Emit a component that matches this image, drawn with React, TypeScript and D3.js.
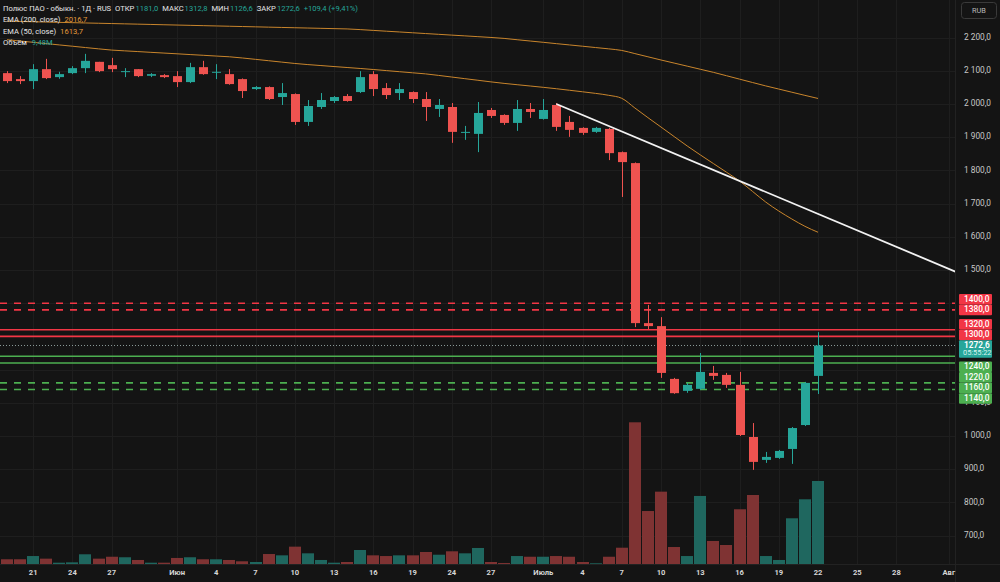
import React from 'react';
import * as d3 from 'd3';

// ---- data ----
const OPEN = [2093,2075,2069,2105,2081,2093,2108,2127,2117,2098,2105,2085,2087,2084,2066,2111,2096,2090,2075,2045,2051,2021,2030,1946,1991,2009,2024,2036,2090,2048,2033,2036,2015,1985,1991,1914,1910,1982,1967,1943,1985,1955,1997,1946,1928,1916,1925,1855,1822,1340,1331,1172,1136,1142,1190,1184,1154,997,928,934,961,1033,1181.0];
const HIGH = [2099,2084,2120,2136,2097,2114,2151,2127,2139,2108,2105,2093,2090,2099,2124,2130,2120,2105,2077,2054,2053,2063,2032,2012,2033,2024,2030,2099,2099,2063,2063,2038,2036,2015,2003,1934,2006,1988,1969,2012,2003,2015,2003,1964,1930,1931,1928,1857,1824,1395,1358,1175,1160,1250,1211,1190,1193,1039,952,958,1027,1163,1312.8];
const LOW = [2063,2060,2045,2075,2076,2090,2093,2096,2096,2081,2081,2081,2078,2051,2063,2088,2075,2058,2018,2042,2012,1997,1937,1934,1985,2003,2007,2033,2024,2015,2012,2003,1949,1961,1883,1892,1855,1958,1937,1919,1958,1953,1919,1901,1907,1913,1831,1720,1328,1322,1175,1127,1130,1139,1169,1145,1000,898,919,931,916,1030,1126.6];
const CLOSE = [2069,2069,2105,2078,2090,2108,2130,2099,2105,2099,2084,2090,2081,2066,2111,2090,2097,2060,2039,2051,2015,2033,1946,1994,2012,2021,2009,2081,2045,2027,2045,2015,1991,1997,1916,1916,1973,1964,1943,1985,1976,1982,1931,1922,1913,1928,1852,1825,1340,1331,1190,1129,1154,1193,1181,1154,1003,922,937,955,1024,1160,1272.6];
const VOLUME = [0.54,0.54,0.91,0.61,0.15,0.19,1.11,0.61,0.83,0.77,0.46,0.15,0.15,0.69,0.77,0.54,0.54,0.46,0.31,0.23,1.14,0.99,1.98,1.22,0.46,0.15,0.23,1.60,0.99,0.91,0.99,0.99,1.37,1.06,1.45,1.22,1.83,0.23,0.11,0.91,0.83,0.83,0.91,0.83,0.23,0.08,0.83,1.86,16.18,6.05,8.26,1.94,0.91,7.77,2.63,2.17,6.25,7.88,0.91,0.46,5.22,7.39,9.48];
const EMA200 = [2249.5,2248.6,2247.7,2246.8,2245.9,2245.0,2244.1,2243.2,2242.3,2241.4,2240.5,2239.6,2238.7,2237.8,2236.9,2236.0,2235.1,2234.2,2233.3,2232.4,2231.5,2230.6,2229.7,2228.8,2227.9,2227.0,2226.1,2224.1,2221.7,2219.3,2217.0,2214.6,2212.2,2209.9,2207.5,2205.2,2202.8,2200.4,2197.6,2193.6,2189.7,2185.8,2181.8,2177.9,2174.0,2170.0,2166.1,2161.3,2151.8,2142.2,2132.5,2123.3,2114.0,2104.7,2095.4,2085.2,2074.9,2064.7,2054.5,2045.0,2035.5,2026.0,2016.7];
const EMA50 = [2193.7,2189.7,2185.8,2181.9,2177.9,2174.0,2170.0,2166.1,2162.4,2160.1,2157.9,2155.6,2153.4,2151.2,2148.9,2146.7,2144.4,2142.2,2138.6,2134.5,2130.4,2126.2,2122.1,2118.7,2115.8,2112.8,2109.9,2107.0,2103.9,2100.6,2097.3,2094.0,2090.7,2086.1,2081.2,2076.3,2071.5,2066.6,2062.1,2058.1,2054.2,2050.2,2046.0,2041.4,2036.8,2032.0,2026.2,2017.1,1988.0,1958.9,1930.5,1902.0,1873.6,1846.8,1820.7,1794.7,1768.1,1736.5,1704.8,1677.7,1653.6,1631.6,1613.7];

const X_TICK_INDEX = [2,5,8,13,16,19,22,25,28,31,34,37,41,44,47,50,53,56,59,62,65,68,72];
const X_TICK_LABELS = ['21','24','27','Июн','4','7','10','13','16','19','24','27','Июль','4','7','10','13','16','19','22','25','28','Авг'];
const PRICE_TICKS = [700,800,900,1000,1100,1200,1300,1400,1500,1600,1700,1800,1900,2000,2100,2200];

const RED_DASHED = [1400, 1380];
const RED_SOLID = [1320, 1300];
const GREEN_SOLID = [1240, 1220];
const GREEN_DASHED = [1160, 1140];

const TREND_INDEX = [42, 62];
const TREND_PRICE = [2000, 1669];

const TITLE = 'Полюс ПАО - обыкн. · 1Д · RUS';
const LAST_CHANGE = 109.4;
const LAST_PCT = 9.41;
const TIMER = '05:55:22';
const VOLUME_LABEL = '9,48M';

// ---- styles ----
const W = 1000, H = 582;
const PLOT_R = 955, PLOT_B = 564;
const BG = '#141414';
const GRID = '#1e1e1e';
const UP = '#26a69a';
const DOWN = '#ef5350';
const UP_VOL = '#1f675f';
const DOWN_VOL = '#7f3333';
const RED_LVL = '#f23645';
const GREEN_LVL = '#4caf50';
const EMA_COLOR = '#c9852c';
const FONT = "Roboto, 'Noto Sans', Arial, sans-serif";

function fmt(v: number, sep = ' ') {
  const s = v.toFixed(1);
  const [ip, dp] = s.split('.');
  const neg = ip.startsWith('-');
  const digits = neg ? ip.slice(1) : ip;
  const grouped = digits.replace(/\B(?=(\d{3})+(?!\d))/g, sep);
  return (neg ? '-' : '') + grouped + ',' + dp;
}

export default function App() {
  const n = CLOSE.length;
  const x = d3.scaleLinear().domain([0, n - 1]).range([7, 818]);
  const y = d3.scaleLinear().domain([1000, 2000]).range([436, 104]);
  const vMax = d3.max(VOLUME) as number;
  const vy = d3.scaleLinear().domain([0, vMax]).range([PLOT_B, PLOT_B - 141.7]);

  const line = d3.line<number>().x((_, i) => x(i)).y((d) => y(d)).curve(d3.curveMonotoneX);

  const last = n - 1;
  const curY = y(CLOSE[last]);

  // trend line extended to the price axis
  const slope = (TREND_PRICE[1] - TREND_PRICE[0]) / (TREND_INDEX[1] - TREND_INDEX[0]);
  const iEnd = x.invert(PLOT_R + 5);
  const pEnd = TREND_PRICE[0] + slope * (iEnd - TREND_INDEX[0]);

  // price labels layout (stacked, pushed away from the last-price label)
  const LH = 10.6;
  type Lvl = { p: number; color: string; dash: boolean };
  const levels: Lvl[] = [
    ...RED_DASHED.map((p) => ({ p, color: RED_LVL, dash: true })),
    ...RED_SOLID.map((p) => ({ p, color: RED_LVL, dash: false })),
    ...GREEN_SOLID.map((p) => ({ p, color: GREEN_LVL, dash: false })),
    ...GREEN_DASHED.map((p) => ({ p, color: GREEN_LVL, dash: true })),
  ];
  const placed: { p: number; color: string; c: number }[] = [];
  const above = levels.filter((l) => l.p > CLOSE[last]).sort((a, b) => a.p - b.p);
  let lim = curY - LH / 2;
  for (const l of above) {
    const c = Math.min(y(l.p), lim - LH / 2);
    placed.push({ p: l.p, color: l.color, c });
    lim = c - LH / 2;
  }
  const below = levels.filter((l) => l.p < CLOSE[last]).sort((a, b) => b.p - a.p);
  lim = curY - LH / 2 + 2 * LH;
  for (const l of below) {
    const c = Math.max(y(l.p), lim + LH / 2);
    placed.push({ p: l.p, color: l.color, c });
    lim = c + LH / 2;
  }
  const centers = [...placed.map((p) => p.c), curY, curY + LH];
  const visibleTicks = PRICE_TICKS.filter((p) => centers.every((c) => Math.abs(c - y(p)) >= LH * 0.4));

  const legendY = [8.5, 20, 31.5, 43];

  return (
    <svg width={W} height={H} style={{ position: 'absolute', left: 0, top: 0, background: BG }} fontFamily={FONT}>
      <defs>
        <clipPath id="plot">
          <rect x={0} y={0} width={PLOT_R} height={PLOT_B} />
        </clipPath>
      </defs>
      <rect x={0} y={0} width={W} height={H} fill={BG} />

      {/* grid */}
      <g clipPath="url(#plot)">
        {PRICE_TICKS.map((p) => (
          <line key={'h' + p} x1={0} x2={PLOT_R} y1={Math.round(y(p)) + 0.5} y2={Math.round(y(p)) + 0.5} stroke={GRID} />
        ))}
        {X_TICK_INDEX.map((i) => (
          <line key={'v' + i} x1={Math.round(x(i)) + 0.5} x2={Math.round(x(i)) + 0.5} y1={0} y2={PLOT_B} stroke={GRID} />
        ))}
      </g>

      {/* volume */}
      <g clipPath="url(#plot)">
        {VOLUME.map((v, i) => {
          const up = CLOSE[i] >= OPEN[i];
          const top = vy(v);
          return (
            <rect key={'vol' + i} x={Math.round(x(i)) - 6} y={top} width={12} height={PLOT_B - top} fill={up ? UP_VOL : DOWN_VOL} />
          );
        })}
      </g>

      {/* EMA lines */}
      <g clipPath="url(#plot)" fill="none">
        <path d={line(EMA200) || ''} stroke={EMA_COLOR} strokeWidth={1} />
        <path d={line(EMA50) || ''} stroke={EMA_COLOR} strokeWidth={1} />
      </g>

      {/* horizontal levels */}
      <g clipPath="url(#plot)">
        {levels.map((l) => (
          <line key={'l' + l.p} x1={0} x2={PLOT_R} y1={y(l.p)} y2={y(l.p)} stroke={l.color} strokeWidth={1.6}
            strokeDasharray={l.dash ? '7 7' : undefined} />
        ))}
        <line x1={0} x2={PLOT_R} y1={curY} y2={curY} stroke="#8a9a98" strokeWidth={1} strokeDasharray="1 2" />
      </g>

      {/* candles */}
      <g clipPath="url(#plot)">
        {CLOSE.map((c, i) => {
          const o = OPEN[i];
          const up = c >= o;
          const col = up ? UP : DOWN;
          const cx = Math.round(x(i));
          const yt = y(Math.max(o, c));
          const yb = y(Math.min(o, c));
          return (
            <g key={'c' + i}>
              <line x1={cx + 0.5} x2={cx + 0.5} y1={y(HIGH[i])} y2={y(LOW[i])} stroke={col} strokeWidth={1} />
              <rect x={cx - 4} y={yt} width={9} height={Math.max(1, yb - yt)} fill={col} />
            </g>
          );
        })}
      </g>

      {/* trend line */}
      <g clipPath="url(#plot)">
        <line x1={x(TREND_INDEX[0])} y1={y(TREND_PRICE[0])} x2={x(iEnd)} y2={y(pEnd)} stroke="#f2f2f2" strokeWidth={1.8} />
      </g>

      {/* separators */}
      <line x1={PLOT_R + 0.5} x2={PLOT_R + 0.5} y1={0} y2={H} stroke="#222" />
      <line x1={0} x2={W} y1={PLOT_B + 0.5} y2={PLOT_B + 0.5} stroke="#222" />

      {/* price axis */}
      <g fontSize={8.3} fill="#c8c8c8">
        {visibleTicks.map((p) => (
          <text key={'pt' + p} x={964} y={y(p)} dominantBaseline="middle">{fmt(p)}</text>
        ))}
      </g>

      {/* price labels */}
      <g fontSize={8.3} fill="#fff">
        {placed.map((l) => (
          <g key={'pl' + l.p}>
            <rect x={959} y={l.c - LH / 2} width={33} height={LH} fill={l.color} rx={1} />
            <text x={964} y={l.c + 0.3} dominantBaseline="middle" fontWeight={500}>{fmt(l.p, '')}</text>
          </g>
        ))}
        <rect x={959} y={curY - LH / 2} width={33} height={17.5} fill={UP} rx={1} />
        <text x={964} y={curY + 0.3} dominantBaseline="middle" fontWeight={600}>{fmt(CLOSE[last], '')}</text>
        <text x={963} y={curY + 7.8} dominantBaseline="middle" fontSize={7.4} fill="#d8f3ef">{TIMER}</text>
      </g>

      {/* RUB box */}
      <rect x={961.5} y={2.5} width={35} height={16} rx={3} fill="none" stroke="#3a3a3a" />
      <text x={979} y={11} textAnchor="middle" dominantBaseline="middle" fontSize={7.4} fill="#b8b8b8">RUB</text>

      {/* time axis */}
      <g fontSize={7.6} fill="#d6d6d6" fontWeight={700}>
        {X_TICK_INDEX.map((i, k) => (
          <text key={'xt' + k} x={x(i)} y={573} textAnchor="middle" dominantBaseline="middle">{X_TICK_LABELS[k]}</text>
        ))}
      </g>

      {/* legend */}
      <g fontSize={7.6} dominantBaseline="middle">
        <text x={3} y={legendY[0]} fill="#e6e6e6">
          <tspan>{TITLE}</tspan>
          <tspan dx={4}>ОТКР</tspan>
          <tspan dx={1} fill={UP}>{fmt(OPEN[last], '')}</tspan>
          <tspan dx={4}>МАКС</tspan>
          <tspan dx={1} fill={UP}>{fmt(HIGH[last], '')}</tspan>
          <tspan dx={4}>МИН</tspan>
          <tspan dx={1} fill={UP}>{fmt(LOW[last], '')}</tspan>
          <tspan dx={4}>ЗАКР</tspan>
          <tspan dx={1} fill={UP}>{fmt(CLOSE[last], '')}</tspan>
          <tspan dx={4} fill={UP}>{'+' + fmt(LAST_CHANGE) + ' (+' + LAST_PCT.toFixed(2).replace('.', ',') + '%)'}</tspan>
        </text>
        <text x={3} y={legendY[1]} fill="#e6e6e6">
          <tspan>EMA (200, close)</tspan>
          <tspan dx={4} fill="#e39a3b">{fmt(EMA200[last], '')}</tspan>
        </text>
        <text x={3} y={legendY[2]} fill="#e6e6e6">
          <tspan>EMA (50, close)</tspan>
          <tspan dx={4} fill="#e39a3b">{fmt(EMA50[last], '')}</tspan>
        </text>
        <text x={3} y={legendY[3]} fill="#e6e6e6">
          <tspan>Объём</tspan>
          <tspan dx={5} fill={UP}>{VOLUME_LABEL}</tspan>
        </text>
      </g>
    </svg>
  );
}
